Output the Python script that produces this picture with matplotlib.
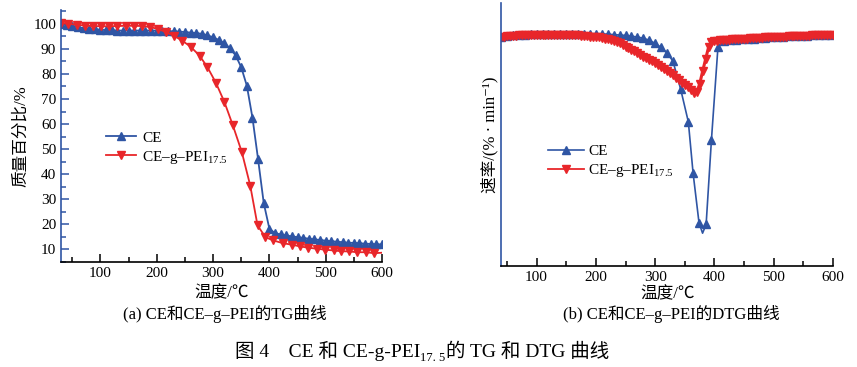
import matplotlib
matplotlib.use("Agg")
import matplotlib.pyplot as plt
from matplotlib.ticker import MultipleLocator

FONTS = ['Liberation Serif', 'Noto Sans CJK SC', 'DejaVu Serif']
plt.rcParams['font.family'] = FONTS
plt.rcParams['mathtext.fontset'] = 'stix'

BLUE = '#2f55a4'
RED = '#e8262a'

# TG data (mass %)
tg_ce_t = [30, 40, 50, 60, 70, 80, 90, 100, 110, 120, 130, 140, 150, 160, 170, 180,
           190, 200, 210, 220, 230, 240, 250, 260, 270, 280, 290, 300, 310, 320, 330,
           340, 350, 360, 370, 380, 390, 400, 410, 420, 430, 440, 450, 460, 470, 480,
           490, 500, 510, 520, 530, 540, 550, 560, 570, 580, 590, 600]
tg_ce = [100.0, 99.5, 99.0, 98.6, 98.3, 98.0, 97.8, 97.6, 97.5, 97.4, 97.3, 97.3, 97.3,
         97.3, 97.3, 97.3, 97.3, 97.3, 97.2, 97.1, 97.0, 96.9, 96.7, 96.5, 96.3, 96.0,
         95.4, 94.6, 93.6, 92.2, 90.3, 87.4, 82.7, 75.3, 62.5, 45.9, 28.5, 18.3, 16.5,
         16.0, 15.6, 15.2, 14.9, 14.6, 14.3, 14.0, 13.8, 13.5, 13.3, 13.1, 12.9, 12.7,
         12.6, 12.5, 12.3, 12.2, 12.1, 12.0]

tg_pei_t = [30, 43, 58, 72, 87, 101, 116, 130, 145, 159, 174, 188, 203, 216, 230, 245,
            260, 276, 290, 305, 320, 335, 351, 366, 379, 393, 407, 424, 440, 455, 469,
            484, 499, 514, 527, 542, 556, 572, 586, 600]
tg_pei = [100.3, 100.0, 99.6, 99.3, 99.1, 99.0, 99.0, 99.1, 99.2, 99.2, 99.1, 98.7,
          97.9, 96.7, 95.3, 93.3, 90.9, 87.3, 82.7, 76.5, 68.9, 59.6, 48.9, 35.5, 19.6,
          14.9, 13.6, 12.5, 11.9, 11.2, 10.7, 10.3, 9.9, 9.6, 9.3, 9.2, 8.9, 8.9, 8.5, 8.7]

# DTG data (rate, arbitrary units, 0 = baseline)
dtg_ce_t = [40, 50, 60, 70, 80, 90, 100, 110, 120, 130, 140, 150, 160, 170, 180, 190,
            200, 210, 220, 230, 240, 250, 260, 270, 280, 290, 300, 310, 320, 330, 343,
            356, 364, 374, 380, 386, 395, 406, 416, 426, 436, 446, 456, 466, 476, 486,
            496, 506, 516, 526, 536, 546, 556, 566, 576, 586, 596]
dtg_ce = [0.0, 0.1, 0.2, 0.25, 0.3, 0.35, 0.4, 0.4, 0.4, 0.4, 0.4, 0.4, 0.4, 0.4, 0.4,
          0.4, 0.4, 0.4, 0.35, 0.3, 0.25, 0.2, 0.1, 0.0, -0.15, -0.4, -0.8, -1.3, -2.0,
          -3.0, -6.5, -10.6, -17.0, -23.2, -24.5, -23.4, -12.8, -1.2, -0.5, -0.4, -0.35,
          -0.3, -0.25, -0.2, -0.15, -0.1, -0.05, 0.0, 0.05, 0.1, 0.1, 0.15, 0.15, 0.2,
          0.2, 0.25, 0.25]

dtg_pei_t = [40, 45, 50, 55, 60, 65, 70, 75, 80, 85, 90, 95, 100, 105, 110, 115, 120,
             125, 130, 135, 140, 145, 150, 155, 160, 165, 170, 175, 180, 185, 190, 195,
             200, 205, 210, 215, 220, 225, 230, 235, 240, 245, 250, 255, 260, 265, 270,
             275, 280, 285, 290, 295, 300, 305, 310, 315, 320, 325, 330, 335, 340, 345,
             350, 355, 360, 365, 370, 375, 380, 385, 390, 395, 400, 405, 410, 415, 420,
             425, 430, 435, 440, 445, 450, 455, 460, 465, 470, 475, 480, 485, 490, 495,
             500, 505, 510, 515, 520, 525, 530, 535, 540, 545, 550, 555, 560, 565, 570,
             575, 580, 585, 590, 595, 600]
dtg_pei = [0.0, 0.05, 0.1, 0.1, 0.15, 0.15, 0.2, 0.2, 0.2, 0.25, 0.25, 0.25, 0.3, 0.3,
           0.3, 0.3, 0.3, 0.3, 0.3, 0.3, 0.3, 0.3, 0.3, 0.25, 0.25, 0.2, 0.2, 0.15, 0.1,
           0.1, 0.05, 0.05, 0.05, 0.0, -0.1, -0.2, -0.3, -0.4, -0.5, -0.65, -0.8, -1.0,
           -1.2, -1.4, -1.6, -1.8, -2.0, -2.2, -2.45, -2.65, -2.85, -3.05, -3.25, -3.5,
           -3.75, -4.0, -4.25, -4.5, -4.8, -5.1, -5.4, -5.7, -6.0, -6.3, -6.6, -6.95,
           -6.9, -5.9, -4.3, -2.8, -1.3, -0.65, -0.5, -0.45, -0.4, -0.4, -0.35, -0.35,
           -0.3, -0.3, -0.25, -0.25, -0.2, -0.2, -0.15, -0.15, -0.1, -0.1, -0.1, -0.05,
           -0.05, 0.0, 0.0, 0.0, 0.05, 0.05, 0.05, 0.1, 0.1, 0.1, 0.1, 0.15, 0.15, 0.15,
           0.15, 0.2, 0.2, 0.2, 0.2, 0.2, 0.25, 0.25, 0.25]

pei_label = 'CE\u2013g\u2013PEI$_{\\mathregular{17.5}}$'

fig = plt.figure(figsize=(8.57, 3.67), dpi=100)
ax1 = fig.add_axes([61/857, 1-262/367, 321/857, 252/367])
ax2 = fig.add_axes([501/857, 1-266/367, 332/857, 263/367])

# (a) TG
ax1.plot(tg_ce_t, tg_ce, '-^', color=BLUE, lw=1.3, ms=5.5, label='CE')
ax1.plot(tg_pei_t, tg_pei, '-v', color=RED, lw=1.3, ms=5.5,
         markevery=slice(0, len(tg_pei_t)-1), label=pei_label)
ax1.set_xlim(30, 600)
ax1.set_ylim(5, 105.5)
ax1.xaxis.set_major_locator(MultipleLocator(100))
ax1.xaxis.set_minor_locator(MultipleLocator(50))
ax1.yaxis.set_major_locator(MultipleLocator(10))
ax1.yaxis.set_minor_locator(MultipleLocator(5))
ax1.set_ylabel('质量百分比/%', fontsize=12, labelpad=3)
ax1.legend(loc='upper left', bbox_to_anchor=(0.115, 0.55), frameon=False, fontsize=11,
           handlelength=2.0, handletextpad=0.4, labelspacing=0.25, borderpad=0)

# (b) DTG
ce_marks = [i for i, t in enumerate(dtg_ce_t) if t != 380]
ax2.plot(dtg_ce_t, dtg_ce, '-^', color=BLUE, lw=1.2, ms=5.5, markevery=ce_marks, label='CE')
ax2.plot(dtg_pei_t, dtg_pei, '-v', color=RED, lw=2.2, ms=6, label=pei_label)
ax2.set_xlim(40, 600)
ax2.set_ylim(-28.6, 4.25)
ax2.xaxis.set_major_locator(MultipleLocator(100))
ax2.xaxis.set_minor_locator(MultipleLocator(50))
ax2.set_yticks([])
ax2.set_ylabel('速率/(% · min\u207b\u00b9)', fontsize=12, labelpad=2)
leg2 = ax2.legend(loc='upper left', bbox_to_anchor=(0.12, 0.49), frameon=False, fontsize=11,
                  handlelength=2.3, handletextpad=0.3, labelspacing=0.25, borderpad=0)
leg2.get_lines()[1].set_linewidth(1.3)

for ax in (ax1, ax2):
    ax.spines['top'].set_visible(False)
    ax.spines['right'].set_visible(False)
    ax.spines['left'].set_color(BLUE)
    ax.spines['left'].set_linewidth(1.2)
    ax.spines['bottom'].set_linewidth(1.2)
    ax.tick_params(which='both', direction='in', labelsize=11, width=1.1)
    ax.tick_params(which='major', length=6)
    ax.tick_params(which='minor', length=3.5)
    ax.tick_params(axis='y', which='both', color=BLUE)

fig.text(222/857, 1-293/367, '温度/℃', ha='center', va='center', fontsize=12)
fig.text(668/857, 1-294/367, '温度/℃', ha='center', va='center', fontsize=12)
fig.text(225/857, 1-314/367, '(a) CE和CE\u2013g\u2013PEI的TG曲线', ha='center', va='center', fontsize=12)
fig.text(671/857, 1-314/367, '(b) CE和CE\u2013g\u2013PEI的DTG曲线', ha='center', va='center', fontsize=12)

# caption with subscript, built from pieces so CJK fallback keeps working
renderer = fig.canvas.get_renderer()
cap_y = 1 - 357/367
parts = [('图 4　CE 和 CE-g-PEI', 14, 0), ('17. 5', 9, -4), ('的 TG 和 DTG 曲线', 14, 0)]
texts = []
for s, size, dy in parts:
    texts.append(fig.text(0, cap_y + dy/367, s, fontsize=size, ha='left', va='baseline'))
widths = [t.get_window_extent(renderer).width for t in texts]
x = (422 - sum(widths)/2) / 857
for t, w in zip(texts, widths):
    t.set_x(x)
    x += w / 857

fig.savefig('out.png', dpi=100)
